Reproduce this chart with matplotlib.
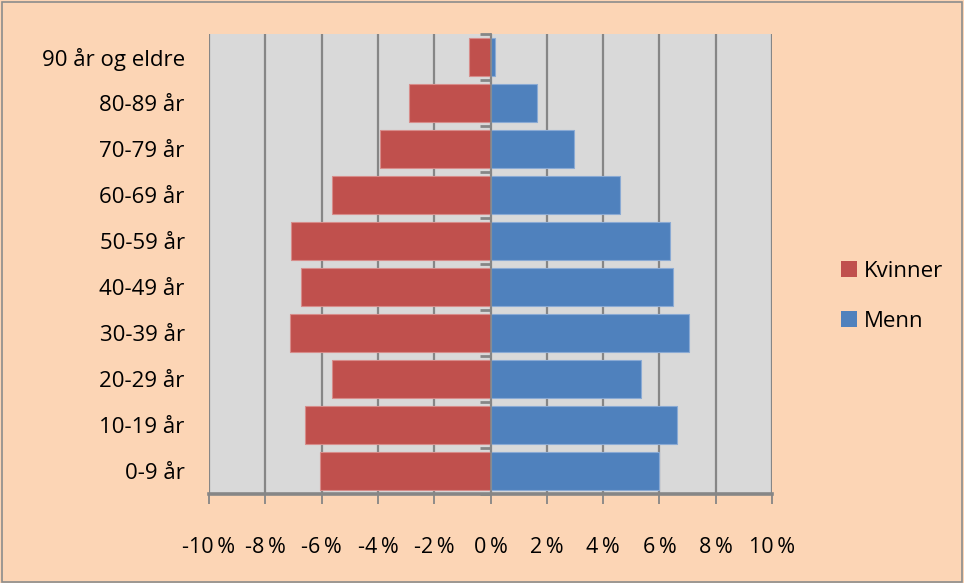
import matplotlib
matplotlib.use('Agg')
import matplotlib.pyplot as plt
from matplotlib.patches import Patch, Rectangle
from matplotlib.ticker import FixedLocator

# age groups, bottom to top
age_groups = ['0-9 år', '10-19 år', '20-29 år', '30-39 år', '40-49 år',
              '50-59 år', '60-69 år', '70-79 år', '80-89 år', '90 år og eldre']
# share of population in percent (women shown as negative)
kvinner = [-6.07, -6.58, -5.64, -7.14, -6.72, -7.08, -5.64, -3.92, -2.91, -0.75]
menn = [5.97, 6.61, 5.33, 7.05, 6.47, 6.39, 4.61, 2.96, 1.66, 0.16]
x_ticks = [-10, -8, -6, -4, -2, 0, 2, 4, 6, 8, 10]

plt.rcParams['font.family'] = ['Open Sans', 'DejaVu Sans']

BG = '#FCD5B5'
PLOT_BG = '#D9D9D9'
GRID = '#868686'
RED = '#C0504D'
BLUE = '#4F81BD'

fig = plt.figure(figsize=(9.64, 5.83), dpi=100, facecolor=BG)
fig.patches.append(Rectangle((0.002, 0.002), 0.996, 0.994, transform=fig.transFigure,
                             fill=False, edgecolor='#8C8C8C', lw=1.2))
ax = fig.add_axes([209 / 964, 89 / 583, 563 / 964, 460 / 583])
ax.set_facecolor(PLOT_BG)

y = list(range(len(age_groups)))
ax.barh(y, kvinner, height=0.83, color=RED, edgecolor='#D78C8A', lw=0.8, zorder=3, label='Kvinner')
ax.barh(y, menn, height=0.83, color=BLUE, edgecolor='#8AAAD4', lw=0.8, zorder=3, label='Menn')

ax.set_xlim(-10, 10)
ax.set_ylim(-0.5, len(age_groups) - 0.5)

# vertical gridlines
for t in x_ticks:
    ax.axvline(t, color=GRID, lw=1.6, zorder=1)

# x axis
ax.set_xticks(x_ticks)
ax.set_xticklabels([f'{t}\u2009%' for t in x_ticks], fontsize=15.5)
ax.tick_params(axis='x', direction='out', length=7, width=1.3, color=GRID, pad=24)
for s in ['top', 'right']:
    ax.spines[s].set_visible(False)
ax.spines['bottom'].set_color(GRID)
ax.spines['bottom'].set_linewidth(2.6)

# y axis sits at zero
ax.spines['left'].set_position(('data', 0))
ax.spines['left'].set_color(GRID)
ax.spines['left'].set_linewidth(1.2)
ax.spines['left'].set_zorder(4)
ax.set_yticks([])
ax.yaxis.set_minor_locator(FixedLocator([i + 0.5 for i in range(-1, len(age_groups))]))
ax.tick_params(axis='y', which='minor', direction='out', length=8, width=2, color=GRID)

for i, lab in enumerate(age_groups):
    ax.text(-0.043, i - 0.05, lab, transform=ax.get_yaxis_transform(), ha='right', va='center', fontsize=16)

handles = [Patch(facecolor=RED), Patch(facecolor=BLUE)]
fig.legend(handles, ['Kvinner', 'Menn'], loc='center left', bbox_to_anchor=(0.872, 0.492),
           frameon=False, fontsize=16, handlelength=0.75, handleheight=0.75,
           handletextpad=0.3, labelspacing=1.3, borderpad=0, borderaxespad=0)

fig.savefig('out.png', dpi=100, facecolor=BG)
